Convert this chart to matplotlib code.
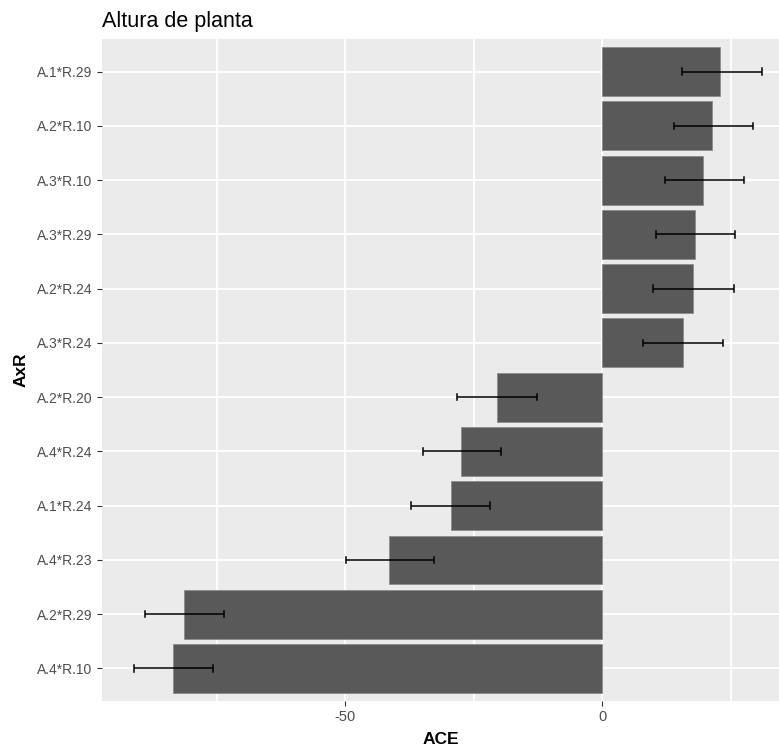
import matplotlib
matplotlib.use("Agg")
import matplotlib.pyplot as plt

plt.rcParams['font.family'] = ['Liberation Sans', 'DejaVu Sans']

categories = ["A.4*R.10", "A.2*R.29", "A.4*R.23", "A.1*R.24", "A.4*R.24", "A.2*R.20",
              "A.3*R.24", "A.2*R.24", "A.3*R.29", "A.3*R.10", "A.2*R.10", "A.1*R.29"]
ace = [-83.5, -81.3, -41.4, -29.4, -27.4, -20.4, 15.8, 17.7, 18.1, 19.6, 21.4, 23.0]
err_low = [-91.0, -88.9, -49.8, -37.2, -34.8, -28.2, 8.0, 9.9, 10.5, 12.3, 14.0, 15.6]
err_high = [-75.7, -73.5, -32.7, -21.8, -19.6, -12.6, 23.5, 25.7, 25.9, 27.6, 29.4, 31.1]

fig = plt.figure(figsize=(7.79, 7.51), dpi=100)
ax = fig.add_axes([102/779, 50/751, 677/779, 662/751])
ax.set_facecolor('#EBEBEB')

ypos = list(range(len(categories)))
ax.barh(ypos, ace, height=0.9, color='#595959', edgecolor='#8C8C8C', linewidth=0.6, zorder=2)
for y, lo, hi in zip(ypos, err_low, err_high):
    ax.plot([lo, hi], [y, y], color='black', lw=1.1, zorder=3, solid_capstyle='butt')
    ax.plot([lo, lo], [y - 0.06, y + 0.06], color='black', lw=1.1, zorder=3)
    ax.plot([hi, hi], [y - 0.06, y + 0.06], color='black', lw=1.1, zorder=3)

ax.set_xlim(-97.3, 34.4)
ax.set_ylim(-0.6, len(categories) - 0.4)
ax.set_yticks(ypos)
ax.set_yticklabels(categories)
ax.set_xticks([-50, 0])
ax.set_xticklabels(['-50', '0'])
for v in [-75, -50, -25, 0, 25]:
    ax.axvline(v, color='white', lw=1.3, zorder=1)
for y in ypos:
    ax.axhline(y, color='white', lw=1.3, zorder=1)

for s in ax.spines.values():
    s.set_visible(False)
ax.tick_params(axis='both', colors='#333333', labelcolor='#4D4D4D', labelsize=10, length=3.5, width=0.8)
ax.tick_params(axis='x', pad=3, labelsize=10.5)

ax.set_xlabel('ACE', fontsize=12.5, fontweight='bold', labelpad=6)
ax.set_ylabel('AxR', fontsize=12.5, fontweight='bold', labelpad=6)
ax.set_title('Altura de planta', fontsize=15.5, loc='left', pad=9)

fig.savefig('out.png', dpi=100)
